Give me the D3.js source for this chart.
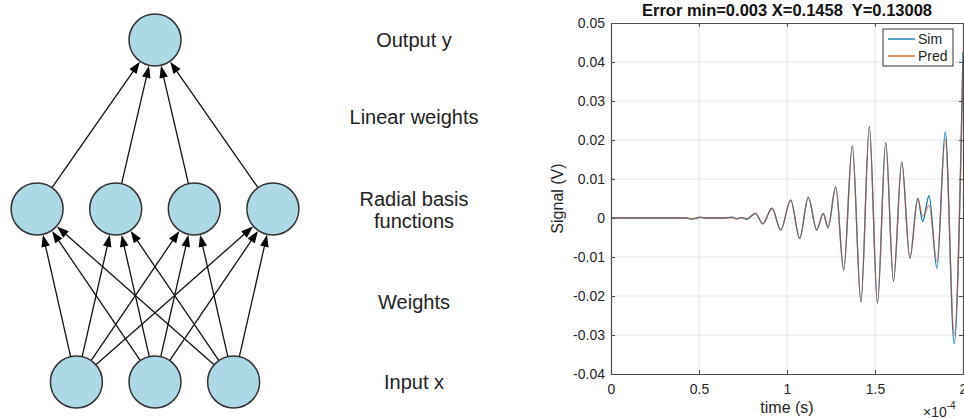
<!DOCTYPE html>
<html><head><meta charset="utf-8">
<script src="https://cdn.jsdelivr.net/npm/d3@7"></script>
<style>body{margin:0;background:#fff}svg{display:block}</style>
</head><body>
<svg id="c" width="964" height="419"></svg>
<script>
// ---------- data ----------
const layerSizes = [3, 4, 1];               // input, RBF hidden, output
const layerLabels = [["Output y"], ["Linear weights"], ["Radial basis", "functions"], ["Weights"], ["Input x"]];

const chartTitle = "Error min=0.003 X=0.1458  Y=0.13008";
const xLabel = "time (s)";
const yLabel = "Signal (V)";
const seriesNames = ["Sim", "Pred"];
const xTicks = [0, 0.5, 1, 1.5, 2];
const yTicks = [-0.04, -0.03, -0.02, -0.01, 0, 0.01, 0.02, 0.03, 0.04, 0.05];

// time in units of 1e-4 s
const time = [0, 0.39, 0.426, 0.459, 0.489, 0.506, 0.54, 0.648, 0.686, 0.714, 0.743, 0.771,
  0.821, 0.862, 0.915, 0.964, 1.021, 1.072, 1.121, 1.169, 1.206, 1.233, 1.277, 1.322,
  1.371, 1.420, 1.468, 1.514, 1.561, 1.605, 1.652, 1.698, 1.743, 1.771, 1.807, 1.852,
  1.899, 1.950, 2.0];
const sim = [0, 0, 0, -0.0003, 0, 0.0002, 0, 0, 0.0002, -0.0002, 0.0001, -0.0003,
  0.0012, -0.0015, 0.0025, -0.0031, 0.0046, -0.0052, 0.0053, -0.0031, 0.0012, -0.0024, 0.0080, -0.0133,
  0.0185, -0.0215, 0.0234, -0.0219, 0.0193, -0.0162, 0.0144, -0.0103, 0.0050, -0.0009, 0.0057, -0.0129,
  0.0221, -0.0322, 0.0426];
const pred = [0, 0, 0, -0.0002, 0, 0.0001, 0, 0, 0.0001, -0.0002, 0.0001, -0.0002,
  0.0012, -0.0015, 0.0025, -0.0031, 0.0046, -0.0052, 0.0053, -0.0031, 0.0012, -0.0026, 0.0080, -0.0133,
  0.0185, -0.0215, 0.0234, -0.0219, 0.0193, -0.0162, 0.0144, -0.0103, 0.0050, 0.0005, 0.0032, -0.0112,
  0.0202, -0.0300, 0.0400];

// ---------- network diagram ----------
const svg = d3.select("#c");
const layerY = [382, 209, 40];
const nodeR = 26;
const nodeX = d3.scaleLinear().domain([-1, 1]).range([155 - 78.6, 155 + 78.6]);
const nodes = layerSizes.map((n, l) => d3.range(n).map(i => ({x: nodeX(i - (n - 1) / 2), y: layerY[l]})));
const edges = [];
for (let l = 0; l < nodes.length - 1; l++)
  nodes[l].forEach(s => nodes[l + 1].forEach(t => edges.push({s, t})));

const net = svg.append("g");
const AL = 12, AW = 4.3;
edges.forEach(({s, t}) => {
  const dx = t.x - s.x, dy = t.y - s.y, len = Math.hypot(dx, dy);
  const ux = dx / len, uy = dy / len;
  const sx = s.x + ux * nodeR, sy = s.y + uy * nodeR;
  const tx = t.x - ux * (nodeR + 0.5), ty = t.y - uy * (nodeR + 0.5);
  const bx = tx - ux * AL, by = ty - uy * AL;
  net.append("line").attr("x1", sx).attr("y1", sy).attr("x2", bx + ux).attr("y2", by + uy)
    .attr("stroke", "#111").attr("stroke-width", 1.3);
  net.append("path")
    .attr("d", `M${tx},${ty}L${bx - uy * AW},${by + ux * AW}L${bx + uy * AW},${by - ux * AW}Z`)
    .attr("fill", "#000");
});
net.selectAll("circle").data(nodes.flat()).join("circle")
  .attr("cx", d => d.x).attr("cy", d => d.y).attr("r", nodeR)
  .attr("fill", "#add8e6").attr("stroke", "#333").attr("stroke-width", 1.5);

const labelY = [40, 117, 199, 302, 382];
const lab = svg.append("g").attr("font-family", "Liberation Sans, Arial, sans-serif")
  .attr("font-size", 20).attr("fill", "#222").attr("text-anchor", "middle");
layerLabels.forEach((lines, k) => {
  lines.forEach((t, j) => lab.append("text").attr("x", 414).attr("y", labelY[k] + j * 22)
    .attr("dy", "0.35em").text(t));
});

// ---------- signal chart ----------
const x = d3.scaleLinear().domain([0, 2]).range([611, 963]);
const y = d3.scaleLinear().domain([-0.04, 0.05]).range([374, 23]);
const plot = svg.append("g").attr("font-family", "Liberation Sans, Arial, Helvetica, sans-serif");

// grid
plot.append("g").selectAll("line").data(xTicks.slice(1, -1)).join("line")
  .attr("x1", d => x(d)).attr("x2", d => x(d)).attr("y1", y(0.05)).attr("y2", y(-0.04))
  .attr("stroke", "#e6e6e6").attr("stroke-width", 1);
plot.append("g").selectAll("line").data(yTicks.slice(1, -1)).join("line")
  .attr("y1", d => y(d)).attr("y2", d => y(d)).attr("x1", x(0)).attr("x2", x(2))
  .attr("stroke", "#e6e6e6").attr("stroke-width", 1);

// lines
svg.append("defs").append("clipPath").attr("id", "clip").append("rect")
  .attr("x", x(0)).attr("y", y(0.05)).attr("width", x(2) - x(0)).attr("height", y(-0.04) - y(0.05));
const line = d3.line().x(d => x(d[0])).y(d => y(d[1])).curve(d3.curveMonotoneX);
const colors = ["#0072BD", "#D95319"];
const lineOpacity = [1, 0.62];
const lg = plot.append("g").attr("clip-path", "url(#clip)");
[sim, pred].forEach((vals, k) => {
  lg.append("path").attr("d", line(time.map((t, i) => [t, vals[i]])))
    .attr("fill", "none").attr("stroke", colors[k]).attr("stroke-width", 1.3)
    .attr("stroke-opacity", lineOpacity[k]).attr("stroke-linejoin", "round");
});

// axes
const axCol = "#4d4d4d", txtCol = "#262626";
function styleAxis(g) {
  g.select(".domain").attr("stroke", axCol).attr("stroke-width", 1.2);
  g.selectAll(".tick line").attr("stroke", axCol);
  g.selectAll(".tick text").attr("fill", txtCol).attr("font-size", 14);
}
plot.append("g").attr("transform", `translate(0,${y(-0.04)})`)
  .call(d3.axisBottom(x).tickValues(xTicks).tickFormat(d => String(d)).tickSize(-4).tickSizeOuter(0).tickPadding(10))
  .attr("font-family", null).call(styleAxis);
plot.append("g").attr("transform", `translate(${x(0)},0)`)
  .call(d3.axisLeft(y).tickValues(yTicks).tickFormat(d => d === 0 ? "0" : d.toFixed(2)).tickSize(-4).tickSizeOuter(0).tickPadding(6))
  .attr("font-family", null).call(styleAxis);
plot.append("g").attr("transform", `translate(0,${y(0.05)})`)
  .call(d3.axisTop(x).tickValues(xTicks).tickFormat("").tickSize(-4).tickSizeOuter(0)).call(styleAxis);
plot.append("g").attr("transform", `translate(${x(2)},0)`)
  .call(d3.axisRight(y).tickValues(yTicks).tickFormat("").tickSize(-4).tickSizeOuter(0)).call(styleAxis);

// title & labels
plot.append("text").attr("x", (x(0) + x(2)) / 2).attr("y", 16).attr("text-anchor", "middle")
  .attr("font-size", 16.5).attr("font-weight", "bold").attr("fill", "#111")
  .style("white-space", "pre").text(chartTitle);
plot.append("text").attr("x", (x(0) + x(2)) / 2).attr("y", 413).attr("text-anchor", "middle")
  .attr("font-size", 16).attr("fill", txtCol).text(xLabel);
plot.append("text").attr("transform", `translate(563,${(y(0.05) + y(-0.04)) / 2}) rotate(-90)`)
  .attr("text-anchor", "middle").attr("font-size", 16).attr("fill", txtCol).text(yLabel);
const ex = plot.append("text").attr("x", 923).attr("y", 417).attr("font-size", 14).attr("fill", txtCol);
ex.append("tspan").text("\u00d710");
ex.append("tspan").attr("dy", -8).attr("font-size", 10).text("-4");

// legend
const leg = plot.append("g");
leg.append("rect").attr("x", 883).attr("y", 29).attr("width", 70).attr("height", 37)
  .attr("fill", "#fff").attr("stroke", "#333").attr("stroke-width", 1);
seriesNames.forEach((n, k) => {
  const ly = 39 + k * 17;
  leg.append("line").attr("x1", 888).attr("x2", 915).attr("y1", ly).attr("y2", ly)
    .attr("stroke", colors[k]).attr("stroke-width", 1.3);
  leg.append("text").attr("x", 918).attr("y", ly + 5).attr("font-size", 14).attr("fill", txtCol).text(n);
});
</script>
</body></html>
